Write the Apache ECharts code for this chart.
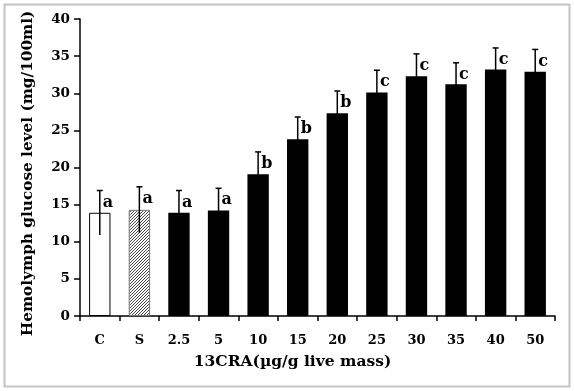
<!DOCTYPE html>
<html>
<head>
<meta charset="utf-8">
<script src="https://cdn.jsdelivr.net/npm/echarts@6/dist/echarts.min.js"></script>
<style>
    html, body { margin: 0; padding: 0; background: #fff; }
    #chart { width: 574px; height: 391px; }
</style>
</head>
<body>
<div id="chart"></div>
<script>
    // 13CRA dose groups (C = control, S = solvent)
    var categories = ['C', 'S', '2.5', '5', '10', '15', '20', '25', '30', '35', '40', '50'];
    var glucoseMean = [13.9, 14.3, 13.9, 14.2, 19.1, 23.8, 27.3, 30.1, 32.3, 31.2, 33.2, 32.9];
    var glucoseSd = [3.0, 3.1, 3.0, 3.0, 3.0, 3.0, 3.0, 3.0, 3.0, 2.9, 2.9, 3.0];
    var sigLetters = ['a', 'a', 'a', 'a', 'b', 'b', 'b', 'c', 'c', 'c', 'c', 'c'];
    var yTicks = [0, 5, 10, 15, 20, 25, 30, 35, 40];

    var serif = '"DejaVu Serif", "Liberation Serif", serif';

    // diagonal hatch for the solvent bar
    function hatch() {
        var c = document.createElement('canvas');
        c.width = 3; c.height = 3;
        var ctx = c.getContext('2d');
        ctx.fillStyle = '#fff';
        ctx.fillRect(0, 0, 3, 3);
        ctx.strokeStyle = '#333';
        ctx.lineWidth = 0.9;
        ctx.beginPath();
        ctx.moveTo(-1, 4); ctx.lineTo(4, -1);
        ctx.moveTo(-1, 1); ctx.lineTo(1, -1);
        ctx.moveTo(2, 4); ctx.lineTo(4, 2);
        ctx.stroke();
        return c;
    }

    var barData = glucoseMean.map(function (v, i) {
        var style;
        if (i === 0) style = { color: '#fff', borderColor: '#000', borderWidth: 1 };
        else if (i === 1) style = { color: { image: hatch(), repeat: 'repeat' }, borderColor: '#777', borderWidth: 1 };
        else style = { color: '#000' };
        return { value: v, itemStyle: style };
    });

    var errData = glucoseMean.map(function (v, i) {
        return [i, v, glucoseSd[i], sigLetters[i]];
    });

    var myEcharts = echarts.init(document.getElementById('chart'));
    myEcharts.setOption({
        animation: false,
        graphic: [{
            type: 'rect',
            shape: { x: 4.5, y: 4.5, width: 565, height: 382 },
            style: { fill: null, stroke: '#c4c4c4', lineWidth: 2 },
            z: -1
        }],
        grid: { left: 80, right: 19, top: 19, bottom: 75 },
        xAxis: {
            type: 'category',
            data: categories,
            name: '13CRA(µg/g live mass)',
            nameLocation: 'middle',
            nameGap: 38,
            nameTextStyle: { fontFamily: serif, fontWeight: 'bold', fontSize: 15.5, color: '#000', padding: [0, 50, 0, 0] },
            axisLine: { lineStyle: { color: '#000', width: 1.5 } },
            axisTick: { show: true, length: 5, lineStyle: { color: '#000', width: 1.5 } },
            axisLabel: { fontFamily: serif, fontWeight: 'bold', fontSize: 13, color: '#000', margin: 18 }
        },
        yAxis: {
            type: 'value',
            min: yTicks[0],
            max: yTicks[yTicks.length - 1],
            interval: 5,
            name: 'Hemolymph glucose level (mg/100ml)',
            nameLocation: 'middle',
            nameGap: 44,
            nameTextStyle: { fontFamily: serif, fontWeight: 'bold', fontSize: 15.3, color: '#000', padding: [0, 12, 0, 0] },
            axisLine: { show: true, lineStyle: { color: '#000', width: 1.5 } },
            axisTick: { show: true, length: 6, lineStyle: { color: '#000', width: 1.5 } },
            axisLabel: { fontFamily: serif, fontWeight: 'bold', fontSize: 13.5, color: '#000', margin: 10 },
            splitLine: { show: false }
        },
        series: [{
            type: 'bar',
            data: barData,
            barWidth: '54%'
        }, {
            type: 'custom',
            z: 5,
            data: errData,
            renderItem: function (params, api) {
                var x = api.value(0), m = api.value(1), s = api.value(2);
                var top = api.coord([x, m + s]);
                var bot = api.coord([x, m - s]);
                var cap = 3;
                return {
                    type: 'group',
                    children: [{
                        type: 'line',
                        shape: { x1: top[0], y1: top[1], x2: bot[0], y2: bot[1] },
                        style: { stroke: '#000', lineWidth: 1.5 }
                    }, {
                        type: 'line',
                        shape: { x1: top[0] - cap, y1: top[1], x2: top[0] + cap, y2: top[1] },
                        style: { stroke: '#000', lineWidth: 1.5 }
                    }, {
                        type: 'text',
                        x: top[0] + 3,
                        y: top[1] + 12,
                        style: {
                            text: sigLetters[params.dataIndex],
                            fill: '#000',
                            font: 'bold 16px ' + serif,
                            align: 'left',
                            verticalAlign: 'middle'
                        }
                    }]
                };
            }
        }]
    });
</script>
</body>
</html>
